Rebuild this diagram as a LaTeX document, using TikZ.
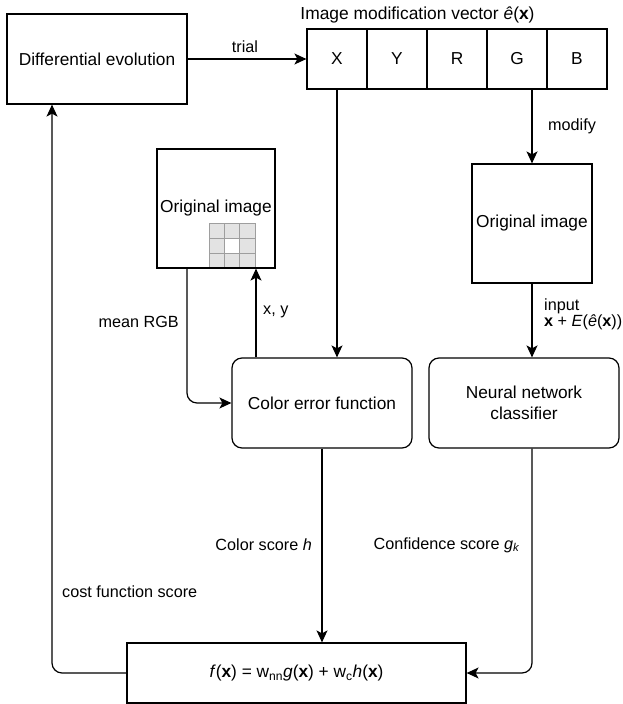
\documentclass[tikz,border=0pt]{standalone}
\usepackage{fontspec}
\setmainfont{Liberation Sans}
\usetikzlibrary{arrows.meta}
\begin{document}
\begin{tikzpicture}[x=1pt,y=-1pt,
  box/.style={draw, line width=1.2pt, rectangle, inner sep=0pt, align=center,
    font=\fontsize{17.3}{20.5}\selectfont},
  rbox/.style={box, rounded corners=10pt},
  cell/.style={box, minimum width=60pt, minimum height=60pt},
  lab/.style={inner sep=0pt, font=\fontsize{16.2}{19}\selectfont},
  arr/.style={line width=1.2pt, -{Stealth[length=12pt,width=11pt,inset=3pt]}},
  gridcell/.style={draw=black!38, fill=black!11, line width=0.9pt}
]
\useasboundingbox (0,0) rectangle (622,704);

% Differential evolution
\node[box, minimum width=180pt, minimum height=90pt] (de) at (97,59) {Differential evolution};

% image modification vector
\node[lab, font=\fontsize{17.4}{20}\selectfont] (title) at (417.5,15) {Image modification vector \textit{ê}(\textbf{x})};
\node[cell] (cx) at (337,59) {X};
\node[cell] (cy) at (397,59) {Y};
\node[cell] (cr) at (457,59) {R};
\node[cell] (cg) at (517,59) {G};
\node[cell] (cb) at (577,59) {B};

% left original image with pixel grid
\foreach \i in {0,1,2}{
  \foreach \j in {0,1,2}{
    \draw[gridcell] (209+15.33*\i,223+15*\j) rectangle ++(15.33,15);
  }
}
\fill[white] (224.33+0.5,238+0.5) rectangle (239.66-0.5,253-0.5);
\node[box, minimum width=118pt, minimum height=119pt] (o1) at (216,208.5) {Original image};

% right original image
\node[box, minimum width=120pt, minimum height=119pt] (o2) at (532,223.5) {Original image};

% color error and classifier
\node[rbox, minimum width=180pt, minimum height=90pt] (cef) at (322,403) {Color error function};
\node[rbox, minimum width=190pt, minimum height=90pt] (nnc) at (524,403) {Neural network\\classifier};

% cost function
\node[box, minimum width=339pt, minimum height=60pt] (fb) at (296.5,673)
  {\textit{f}(\textbf{x}) = w\textsubscript{nn}\textit{g}(\textbf{x}) + w\textsubscript{c}\textit{h}(\textbf{x})};

% connectors
\draw[arr] (de) -- (cx);
\node[lab] (ltrial) at (245,47) {trial};

\draw[arr] (cx.south) -- (cx.south |- cef.north);

\draw[arr] (cg.south -| o2.north) -- (o2.north);
\node[lab, anchor=west] (lmod) at (548,126) {modify};

\draw[arr] (o2.south) -- (o2.south |- nnc.north);
\node[lab, anchor=west] (linput) at (544,306) {input};
\node[lab, anchor=west] (lxe) at (544,322) {\textbf{x} + \textit{E}(\textit{ê}(\textbf{x}))};

\draw[arr, rounded corners=10pt] ([xshift=-29pt]o1.south) |- (cef.west);
\node[lab, anchor=east] (lmean) at (179,322) {mean RGB};

\draw[arr] ([xshift=-66pt]cef.north) -- ([xshift=40pt]o1.south);
\node[lab, anchor=west] (lxy) at (263,312) {x, y};

\draw[arr] (cef.south) -- (cef.south |- fb.north);
\node[lab, anchor=east] (lcol) at (312,545) {Color score \textit{h}};

\draw[arr, rounded corners=10pt] (nnc.south -| o2.south) |- (fb.east);
\node[lab, anchor=east] (lconf) at (520,545) {Confidence score \textit{g}\textsubscript{\textit{k}}};

\draw[arr, rounded corners=10pt] (fb.west) -| ([xshift=-45pt]de.south);
\node[lab, anchor=west] (lcost) at (62,592) {cost function score};
\end{tikzpicture}
\end{document}
